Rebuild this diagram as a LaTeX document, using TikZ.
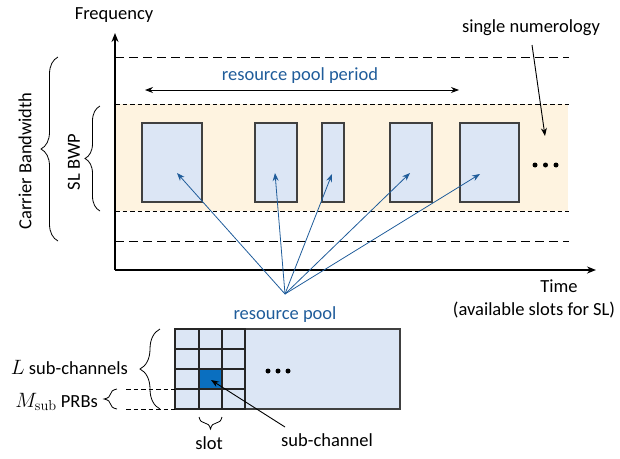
\documentclass[tikz,border=0pt]{standalone}
\usepackage[no-math]{fontspec}
\setmainfont{Carlito}
\usetikzlibrary{arrows.meta,decorations.pathreplacing,calc}
\definecolor{tblue}{HTML}{1F5C9A}
\definecolor{lblue}{HTML}{DCE6F5}
\definecolor{dblue}{HTML}{0A6FC0}
\definecolor{beige}{HTML}{FEF3E0}
\definecolor{gframe}{HTML}{404040}
\tikzset{
  axis/.style={line width=1.7pt,-{Stealth[length=9pt,width=7pt]}},
  longdash/.style={line width=0.9pt,dash pattern=on 9pt off 5pt},
  shortdash/.style={line width=0.9pt,dash pattern=on 4.5pt off 3pt},
  poolbox/.style={draw=gframe,line width=1.1pt,fill=lblue,inner sep=0pt},
  lbl/.style={inner sep=0pt},
  blbl/.style={inner sep=0pt,text=tblue},
  barrow/.style={draw=tblue,line width=0.8pt,-{Stealth[length=8pt,width=6pt]}},
  karrow/.style={line width=0.9pt,-{Stealth[length=8pt,width=6pt]}},
  darrow/.style={line width=0.9pt,{Stealth[length=8pt,width=6pt]}-{Stealth[length=8pt,width=6pt]}},
  bracestyle/.style={line width=0.8pt,decorate,decoration={brace,amplitude=#1}},
  dot/.style={circle,fill=black,inner sep=0pt,minimum size=5pt},
  gridline/.style={line width=1.3pt,draw=black!85},
}
\begin{document}
\begin{tikzpicture}[x=1pt,y=-1pt,font=\fontsize{18.5}{21}\selectfont]
\useasboundingbox (0,0) rectangle (620,458);
% SL BWP band
\fill[beige] (115,104) rectangle (568,211);
% dashed lines
\coordinate (d1a) at (115,57);  \coordinate (d1b) at (569,57);
\coordinate (d2a) at (115,104); \coordinate (d2b) at (569,104);
\coordinate (d3a) at (115,211); \coordinate (d3b) at (569,211);
\coordinate (d4a) at (115,241); \coordinate (d4b) at (569,241);
\draw[longdash] (d1a) -- (d1b);
\draw[shortdash] (d2a) -- (d2b);
\draw[shortdash] (d3a) -- (d3b);
\draw[longdash] (d4a) -- (d4b);
% axes
\coordinate (origin) at (115,270);
\coordinate (ytop) at (115,33);
\coordinate (xend) at (596,270);
\draw[axis] (origin) -- (ytop);
\draw[axis] (origin) -- (xend);
\node[lbl] (freq) at (114,15) {Frequency};
\node[lbl] (time) at (559,286) {Time};
\node[lbl] (avail) at (534,310) {(available slots for SL)};
% pool boxes
\node[poolbox,minimum width=60,minimum height=79] (b1) at (172,162.5) {};
\node[poolbox,minimum width=42,minimum height=79] (b2) at (276,162.5) {};
\node[poolbox,minimum width=22,minimum height=79] (b3) at (333,162.5) {};
\node[poolbox,minimum width=42,minimum height=79] (b4) at (411,162.5) {};
\node[poolbox,minimum width=59,minimum height=79] (b5) at (489.5,162.5) {};
\node[dot] (t1) at (535,165) {};
\node[dot] (t2) at (545.5,165) {};
\node[dot] (t3) at (556,165) {};
% resource pool period
\coordinate (pp1) at (145,90);
\coordinate (pp2) at (459,90);
\draw[darrow] (pp1) -- (pp2);
\node[blbl] (period) at (300,76) {resource pool period};
% single numerology
\node[lbl] (numer) at (531,28) {single numerology};
\coordinate (nums) at (532,45);
\coordinate (numt) at (545,136);
\draw[karrow] (nums) -- (numt);
% braces
\draw[bracestyle=17pt] (58,241) -- (58,57);
\node[lbl,rotate=90] (cbw) at (25,161) {Carrier Bandwidth};
\draw[bracestyle=15pt] (100,211) -- (100,106);
\node[lbl,rotate=90] (slbwp) at (74,162) {SL BWP};
% resource pool arrows
\coordinate (rp) at (285,294);
\draw[barrow] (rp) -- ($(b1.center)+(5,10.5)$);
\draw[barrow] (rp) -- ($(b2.center)+(-1,10.5)$);
\draw[barrow] (rp) -- ($(b3.center)+(-1,11.5)$);
\draw[barrow] (rp) -- ($(b4.center)+(-1,10.5)$);
\draw[barrow] (rp) -- ($(b5.center)+(-9.5,11.5)$);
\node[blbl] (rpl) at (285,315) {resource pool};
% bottom grid
\node[draw=gframe,line width=1.1pt,fill=lblue,minimum width=225,minimum height=80,inner sep=0pt] (big) at (287.5,369) {};
\fill[dblue] (199,369) rectangle (222,389);
\draw[gridline] (175,329) rectangle (245,409);
\foreach \xx in {199,222} \draw[gridline] (\xx,329) -- (\xx,409);
\foreach \yy in {349,369,389} \draw[gridline] (175,\yy) -- (245,\yy);
\coordinate (cell) at (211,380);
\node[dot] (u1) at (268,371) {};
\node[dot] (u2) at (278,371) {};
\node[dot] (u3) at (288,371) {};
% bottom braces and labels
\draw[bracestyle=20pt] (160,409) -- (160,329);
\node[lbl,anchor=east] (lsub) at (128,367) {{\fontsize{22}{24}\selectfont$L$} sub-channels};
\draw[shortdash] (126,389) -- (175,389);
\draw[shortdash] (126,409) -- (175,409);
\draw[bracestyle=13pt] (117,409) -- (117,389);
\node[lbl,anchor=east] (msub) at (98,402) {{\fontsize{22}{24}\selectfont$M_{\mathrm{sub}}$} PRBs};
\draw[bracestyle=12pt,decoration={mirror}] (199,417) -- (222,417);
\node[lbl] (slot) at (209,443) {slot};
\node[lbl] (subch) at (327,440) {sub-channel};
\coordinate (subs) at (285,427);
\draw[karrow] (subs) -- (cell);
\end{tikzpicture}
\end{document}
